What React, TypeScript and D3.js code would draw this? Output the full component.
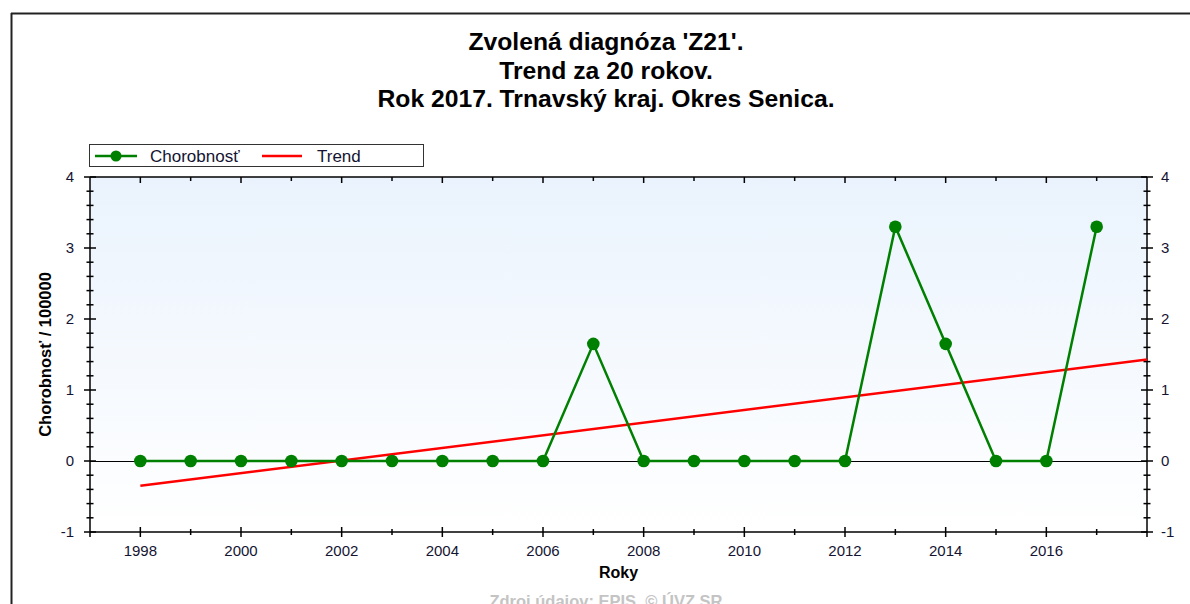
import * as d3 from "d3";

const years = [1998, 1999, 2000, 2001, 2002, 2003, 2004, 2005, 2006, 2007, 2008, 2009, 2010, 2011, 2012, 2013, 2014, 2015, 2016, 2017];
const morbidity = [0, 0, 0, 0, 0, 0, 0, 0, 0, 1.65, 0, 0, 0, 0, 0, 3.3, 1.65, 0, 0, 3.3];
const trendYears = [1998, 2018];
const trendValues = [-0.35, 1.43];
const titleLines = ["Zvolená diagnóza 'Z21'.", "Trend za 20 rokov.", "Rok 2017. Trnavský kraj. Okres Senica."];
const yLabels = [-1, 0, 1, 2, 3, 4];

const W = 1190;
const H = 604;
const plot = { left: 90, right: 1147, top: 177, bottom: 532 };
const font = "Arial, 'Liberation Sans', sans-serif";
const labelColor = "#141432";

const App = () => {
  const x = d3.scaleLinear().domain([1997, 2018]).range([plot.left, plot.right]);
  const y = d3.scaleLinear().domain([-1, 4]).range([plot.bottom, plot.top]);

  const line = d3
    .line<number>()
    .x((_, i) => x(years[i]))
    .y((d) => y(d));

  const trendLine = d3
    .line<number>()
    .x((_, i) => x(trendYears[i]))
    .y((d) => y(d));

  const xTicks = d3.range(1998, 2018);
  const yTicks = d3.range(-1, 4.001, 0.2).map((v) => Math.round(v * 10) / 10);
  const isMajorY = (v: number) => Math.abs(v - Math.round(v)) < 1e-6;

  return (
    <svg width={W} height={H} style={{ position: "absolute", left: 0, top: 0, background: "#fff" }} fontFamily={font}>
      <defs>
        <linearGradient id="bg" x1="0" y1="0" x2="0" y2="1">
          <stop offset="0%" stopColor="#eaf3fd" />
          <stop offset="100%" stopColor="#ffffff" />
        </linearGradient>
      </defs>

      {/* outer frame */}
      <line x1={11} x2={W} y1={13.5} y2={13.5} stroke="#222" strokeWidth={2} />
      <line x1={11.5} x2={11.5} y1={13} y2={H} stroke="#222" strokeWidth={2} />

      {/* title */}
      {titleLines.map((t, i) => (
        <text key={t} x={606} y={50 + i * 28.5} textAnchor="middle" fontSize={24.7} fontWeight="bold" fill="#000">
          {t}
        </text>
      ))}

      {/* legend */}
      <rect x={89.5} y={144.5} width={334} height={22} fill="#fff" stroke="#333" />
      <line x1={95} x2={137} y1={156} y2={156} stroke="#008000" strokeWidth={2.5} />
      <circle cx={116} cy={156} r={5.5} fill="#008000" />
      <text x={150} y={162} fontSize={17} fill={labelColor}>Chorobnosť</text>
      <line x1={262} x2={302} y1={156} y2={156} stroke="#ff0000" strokeWidth={2.5} />
      <text x={317} y={162} fontSize={17} fill={labelColor}>Trend</text>

      {/* plot area */}
      <rect x={plot.left} y={plot.top} width={plot.right - plot.left} height={plot.bottom - plot.top} fill="url(#bg)" />

      {/* zero line */}
      <line x1={plot.left} x2={plot.right} y1={y(0) + 0.5} y2={y(0) + 0.5} stroke="#000" strokeWidth={1} />

      {/* frame lines */}
      <g stroke="#000" strokeWidth={1.5}>
        <line x1={plot.left} x2={plot.right} y1={plot.top} y2={plot.top} />
        <line x1={plot.left} x2={plot.right} y1={plot.bottom} y2={plot.bottom} />
        <line x1={plot.left} x2={plot.left} y1={plot.top} y2={plot.bottom + 5} />
        <line x1={plot.right} x2={plot.right} y1={plot.top} y2={plot.bottom + 5} />
      </g>

      {/* x ticks */}
      <g stroke="#000" strokeWidth={1.5}>
        {xTicks.map((t) => {
          const major = t % 2 === 0;
          const len = major ? 5 : 3;
          return (
            <g key={t}>
              <line x1={x(t)} x2={x(t)} y1={plot.bottom - len} y2={plot.bottom + len} />
              <line x1={x(t)} x2={x(t)} y1={plot.top} y2={plot.top + (major ? 6 : 4)} />
            </g>
          );
        })}
      </g>
      {xTicks
        .filter((t) => t % 2 === 0)
        .map((t) => (
          <text key={t} x={x(t)} y={556} textAnchor="middle" fontSize={15} fill={labelColor}>
            {t}
          </text>
        ))}

      {/* y ticks */}
      <g stroke="#000" strokeWidth={1.5}>
        {yTicks.map((v) => {
          const len = isMajorY(v) ? 6 : 3.5;
          return (
            <g key={v}>
              <line x1={plot.left - len} x2={plot.left + len} y1={y(v)} y2={y(v)} />
              <line x1={plot.right - len} x2={plot.right + len} y1={y(v)} y2={y(v)} />
            </g>
          );
        })}
      </g>
      {yLabels.map((v) => (
        <g key={v}>
          <text x={74} y={y(v) + 5} textAnchor="end" fontSize={15} fill={labelColor}>
            {v}
          </text>
          <text x={1161} y={y(v) + 5} textAnchor="start" fontSize={15} fill={labelColor}>
            {v}
          </text>
        </g>
      ))}

      {/* axis titles */}
      <text
        transform={`translate(51,${(plot.top + plot.bottom) / 2}) rotate(-90)`}
        textAnchor="middle"
        fontSize={16.5}
        fontWeight="bold"
        fill="#000"
      >
        Chorobnosť / 100000
      </text>
      <text x={(plot.left + plot.right) / 2} y={578} textAnchor="middle" fontSize={16} fontWeight="bold" fill="#000">
        Roky
      </text>
      <text x={606} y={607} textAnchor="middle" fontSize={16.5} fontWeight="bold" fill="#c4c4c4">
        Zdroj údajov: EPIS, © ÚVZ SR
      </text>

      {/* trend */}
      <path d={trendLine(trendValues) ?? ""} fill="none" stroke="#ff0000" strokeWidth={2.5} />

      {/* series */}
      <path d={line(morbidity) ?? ""} fill="none" stroke="#008000" strokeWidth={2.5} />
      {morbidity.map((v, i) => (
        <circle key={years[i]} cx={x(years[i])} cy={y(v)} r={6.3} fill="#008000" />
      ))}
    </svg>
  );
};

export default App;
